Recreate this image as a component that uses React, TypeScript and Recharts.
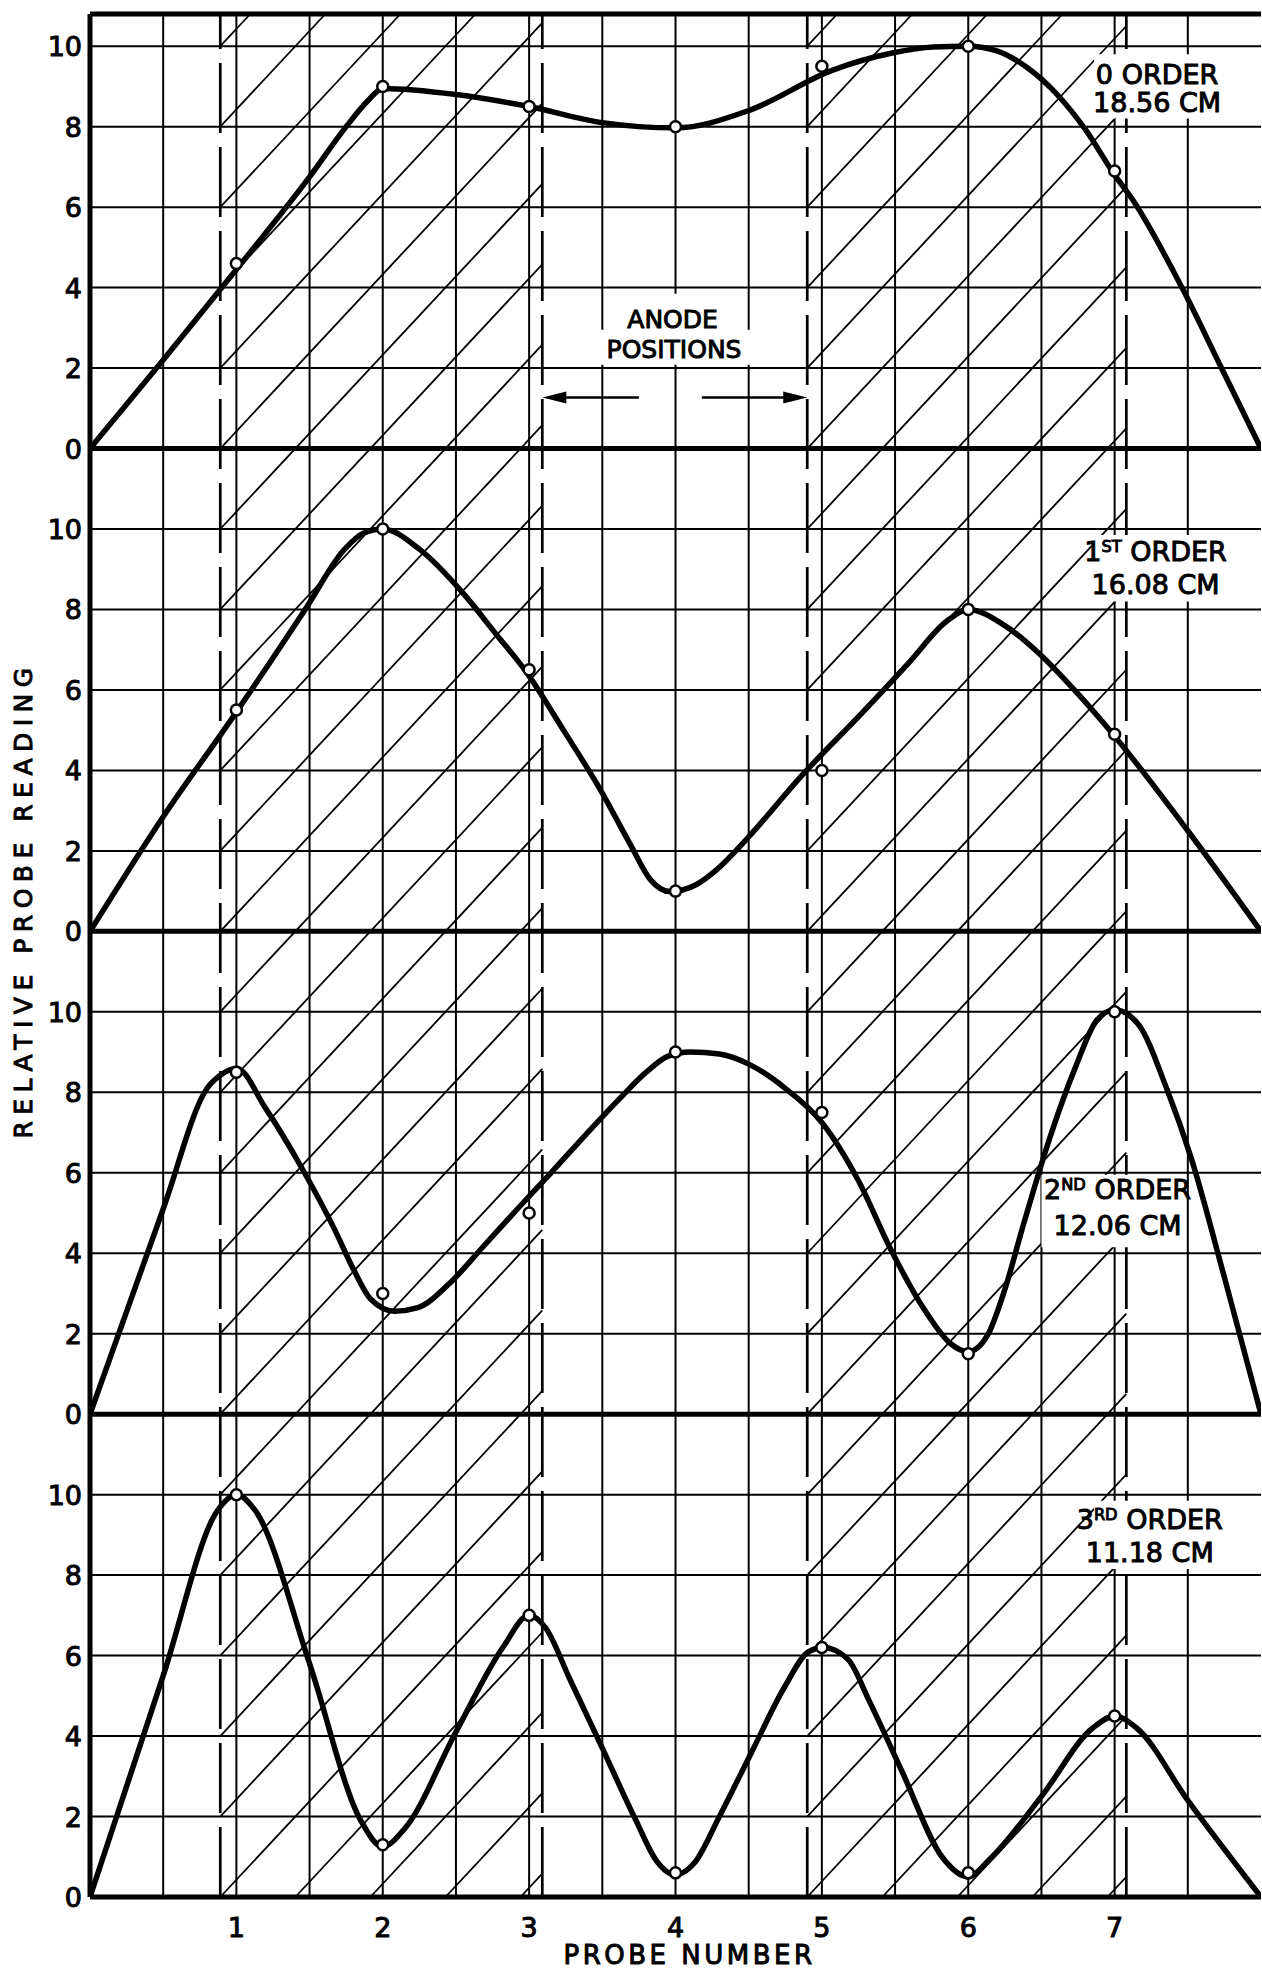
import React from 'react';
import {
  ComposedChart,
  Line,
  XAxis,
  YAxis,
  ReferenceLine,
  ReferenceArea,
  ReferenceDot,
} from 'recharts';

const FONT = '"DejaVu Sans", Verdana, sans-serif';
const INK = '#000';

// probe stations along the tube
const probeNumbers = [1, 2, 3, 4, 5, 6, 7];

// measured readings at each probe, one list per mode order
const order0Readings = [4.6, 9.0, 8.5, 8.0, 9.5, 10.0, 6.9];
const order1Readings = [5.5, 10.0, 6.5, 1.0, 4.0, 8.0, 4.9];
const order2Readings = [8.5, 3.0, 5.0, 9.0, 7.5, 1.5, 10.0];
const order3Readings = [10.0, 1.3, 7.0, 0.6, 6.2, 0.6, 4.5];

// faired curves, [probe position, reading]
const order0Curve = [
  [0, 0], [0.5, 2.2], [1, 4.45], [1.5, 6.75], [1.75, 8.0], [1.9, 8.65], [2, 8.95],
  [2.5, 8.8], [3, 8.5], [3.5, 8.1], [4, 7.97], [4.5, 8.4], [5.07, 9.4], [5.48, 9.83],
  [5.76, 9.98], [6, 10], [6.2, 9.88], [6.39, 9.5], [6.62, 8.75], [6.8, 7.93], [7, 6.8],
  [7.12, 6.2], [7.46, 4.0], [7.73, 2.0], [8, 0],
];
const order1Curve = [
  [0, 0], [0.5, 2.85], [1, 5.45], [1.47, 8.0], [1.74, 9.5], [1.87, 9.9], [2, 10],
  [2.25, 9.5], [2.55, 8.4], [2.78, 7.36], [2.98, 6.45], [3.24, 4.97], [3.49, 3.5],
  [3.69, 2.17], [3.83, 1.28], [3.96, 0.99], [4.14, 1.16], [4.28, 1.53], [4.48, 2.27],
  [4.87, 3.9], [5.28, 5.45], [5.6, 6.7], [5.85, 7.7], [6, 8.0], [6.25, 7.6], [6.5, 6.85],
  [6.75, 5.9], [7, 4.85], [7.5, 2.5], [8, 0],
];
const order2Curve = [
  [0, 0], [0.5, 5.1], [0.8, 8.1], [0.9, 8.45], [1.0, 8.6], [1.2, 7.6], [1.45, 6.1],
  [1.67, 4.6], [1.8, 3.6], [1.92, 2.85], [2.08, 2.56], [2.24, 2.65], [2.47, 3.3],
  [2.69, 4.18], [2.92, 5.1], [3.15, 6.0], [3.4, 7.0], [3.62, 7.85], [3.8, 8.5],
  [3.95, 8.9], [4.1, 9.0], [4.3, 8.95], [4.5, 8.7], [4.75, 8.1], [5, 7.25], [5.25, 5.8],
  [5.47, 4.1], [5.7, 2.6], [5.88, 1.75], [6, 1.55], [6.13, 1.95], [6.25, 3.1],
  [6.38, 4.75], [6.56, 6.9], [6.73, 8.6], [6.88, 9.8], [7, 10.05], [7.16, 9.7],
  [7.36, 8.05], [7.52, 6.4], [7.75, 3.4], [8, 0],
];
const order3Curve = [
  [0, 0], [0.5, 5.5], [0.87, 9.6], [1.0, 10.0], [1.13, 9.6], [1.5, 5.8], [1.85, 1.9],
  [2, 1.25], [2.15, 1.7], [2.5, 4.1], [2.82, 6.2], [3, 7.0], [3.11, 6.7], [3.28, 5.4],
  [3.5, 3.7], [3.73, 1.9], [3.87, 0.9], [4, 0.55], [4.13, 0.85], [4.3, 2.0], [4.52, 3.6],
  [4.75, 5.25], [4.91, 6.1], [5.01, 6.2], [5.18, 5.9], [5.32, 4.9], [5.55, 3.1],
  [5.82, 1.0], [6, 0.5], [6.15, 0.95], [6.5, 2.5], [6.85, 4.2], [7, 4.5], [7.15, 4.2],
  [7.5, 2.4], [8, 0],
];

// anode edges (dashed verticals)
const anodePositions = [0.89, 3.09, 4.9, 7.08];

const readingTicks = [0, 2, 4, 6, 8, 10];
const orderNumbers = ['0', '1', '2', '3'];
const orderSuffixes = ['', 'ST', 'ND', 'RD'];
const cutoffLengths = ['18.56 CM', '16.08 CM', '12.06 CM', '11.18 CM'];

// the four panels are stacked on one value axis, 12 units apart
const PANEL_STEP = 12;
const panelBases = [3, 2, 1, 0].map((i) => i * PANEL_STEP);
const TOP = 46.8;
const HATCH_SLOPE = 3.9;

const orders = [
  { readings: order0Readings, curve: order0Curve },
  { readings: order1Readings, curve: order1Curve },
  { readings: order2Readings, curve: order2Curve },
  { readings: order3Readings, curve: order3Curve },
].map((o, i) => ({
  curveRows: o.curve.map(([x, y]) => ({ x, y: y + panelBases[i] })),
  pointRows: probeNumbers.map((x, j) => ({ x, y: o.readings[j] + panelBases[i] })),
}));

const yTicks = panelBases
  .flatMap((b) => readingTicks.map((t) => b + t))
  .sort((a, b) => a - b);
const thinRows = yTicks.filter((v) => v % PANEL_STEP !== 0);
const gridX = Array.from({ length: 15 }, (_, i) => (i + 1) * 0.5);

// diagonal shading between the anode pairs, clipped to the plot
const hatchSegments: { x: number; y: number }[][] = [];
[[anodePositions[0], anodePositions[1]], [anodePositions[2], anodePositions[3]]].forEach(
  ([left, right]) => {
    for (let k = -6; k <= 24; k++) {
      const y0 = 2 * k;
      let xa = left;
      let ya = y0;
      let xb = right;
      let yb = y0 + HATCH_SLOPE * (right - left);
      if (yb <= 0 || ya >= TOP) continue;
      if (ya < 0) {
        xa = left - y0 / HATCH_SLOPE;
        ya = 0;
      }
      if (yb > TOP) {
        xb = left + (TOP - y0) / HATCH_SLOPE;
        yb = TOP;
      }
      hatchSegments.push([{ x: xa, y: ya }, { x: xb, y: yb }]);
    }
  }
);

// where each order caption sits inside its panel
const captionSpots = [
  { x: 7.29, y1: 9.3, y2: 8.6, box: [6.86, 7.74, 8.2, 9.8] },
  { x: 7.28, y1: 9.45, y2: 8.63, box: [6.86, 7.74, 8.2, 9.85] },
  { x: 7.02, y1: 5.6, y2: 4.7, box: [6.5, 7.47, 4.15, 5.95] },
  { x: 7.24, y1: 9.4, y2: 8.58, box: [6.86, 7.74, 8.15, 9.85] },
];

const ARROW_Y = panelBases[0] + 1.27;

// lettering is a little heavier than the plain face
const letterInk = { fill: INK, stroke: INK, strokeWidth: 1 };

const TextLine = (p: any, head: string, sup: string, tail: string, size: number) => (
  <text
    x={p.cx}
    y={p.cy + size * 0.36}
    textAnchor="middle"
    fontFamily={FONT}
    fontSize={size}
    {...letterInk}
    style={{ whiteSpace: 'pre' }}
  >
    {head}
    {sup ? (
      <tspan fontSize={size * 0.6} dy={-size * 0.32}>
        {sup}
      </tspan>
    ) : null}
    {tail ? <tspan dy={sup ? size * 0.32 : 0}>{tail}</tspan> : null}
  </text>
);

const Arrow = (p: any) => {
  const { x1, y1, x2, y2 } = p;
  const dir = Math.sign(x2 - x1);
  return (
    <g>
      <line x1={x1} y1={y1} x2={x2 - dir * 10} y2={y2} stroke={INK} strokeWidth={2.5} />
      <polygon
        points={`${x2},${y2} ${x2 - dir * 24},${y2 - 6} ${x2 - dir * 24},${y2 + 6}`}
        fill={INK}
      />
    </g>
  );
};

const XTick = (p: any) => (
  <text x={p.x} y={p.y + 40} textAnchor="middle" fontFamily={FONT} fontSize={27} {...letterInk}>
    {p.payload.value}
  </text>
);

const YTick = (p: any) => (
  <text x={p.x - 8} y={p.y + 10} textAnchor="end" fontFamily={FONT} fontSize={27} {...letterInk}>
    {Math.round(p.payload.value) % PANEL_STEP}
  </text>
);

const XTitle = (p: any) => {
  const vb = p.viewBox || { x: 90, y: 1897, width: 1171, height: 70 };
  return (
    <text
      x={vb.x + vb.width * 0.512}
      y={vb.y + 67}
      textAnchor="middle"
      fontFamily={FONT}
      fontSize={26}
      letterSpacing={3.5}
      {...letterInk}
    >
      PROBE NUMBER
    </text>
  );
};

const YTitle = (p: any) => {
  const vb = p.viewBox || { x: 0, y: 14, width: 90, height: 1883 };
  const cx = vb.x + 32;
  const cy = vb.y + vb.height * 0.4705;
  return (
    <text
      transform={`translate(${cx}, ${cy}) rotate(-90)`}
      textAnchor="middle"
      fontFamily={FONT}
      fontSize={25}
      letterSpacing={6.5}
      {...letterInk}
    >
      RELATIVE PROBE READING
    </text>
  );
};

export default function App() {
  return (
    <div
      style={{ position: 'fixed', left: 0, top: 0, width: 1262, height: 1973, background: '#fff' }}
    >
      <ComposedChart width={1262} height={1973} margin={{ top: 14, right: 1, bottom: 6, left: 0 }}>
        <XAxis
          type="number"
          dataKey="x"
          domain={[0, 8]}
          ticks={probeNumbers}
          interval={0}
          allowDataOverflow
          axisLine={false}
          tickLine={false}
          tickSize={0}
          tickMargin={0}
          height={70}
          tick={XTick}
          label={{ content: XTitle }}
        />
        <YAxis
          type="number"
          dataKey="y"
          domain={[0, TOP]}
          ticks={yTicks}
          interval={0}
          allowDataOverflow
          axisLine={false}
          tickLine={false}
          tickSize={0}
          tickMargin={0}
          width={90}
          tick={YTick}
          label={{ content: YTitle }}
        />

        {gridX.map((x) => (
          <ReferenceLine
            key={`gx-${x}`}
            x={x}
            stroke={INK}
            strokeWidth={2}
            ifOverflow="visible"
            zIndex={10}
          />
        ))}
        {thinRows.map((y) => (
          <ReferenceLine
            key={`gy-${y}`}
            y={y}
            stroke={INK}
            strokeWidth={2}
            ifOverflow="visible"
            zIndex={10}
          />
        ))}
        {hatchSegments.map((seg, i) => (
          <ReferenceLine
            key={`h-${i}`}
            segment={seg}
            stroke={INK}
            strokeWidth={1.8}
            ifOverflow="visible"
            zIndex={10}
          />
        ))}
        {anodePositions.map((x) => (
          <ReferenceLine
            key={`a-${x}`}
            x={x}
            stroke={INK}
            strokeWidth={2.7}
            strokeDasharray="70 14"
            ifOverflow="visible"
            zIndex={20}
          />
        ))}

        {panelBases.map((b) => (
          <ReferenceLine
            key={`z-${b}`}
            y={b}
            stroke={INK}
            strokeWidth={5}
            ifOverflow="visible"
            zIndex={30}
          />
        ))}
        <ReferenceLine y={TOP} stroke={INK} strokeWidth={5} ifOverflow="visible" zIndex={30} />
        <ReferenceLine x={0} stroke={INK} strokeWidth={5} ifOverflow="visible" zIndex={30} />

        {captionSpots.map((s, i) => (
          <ReferenceArea
            key={`box-${i}`}
            x1={s.box[0]}
            x2={s.box[1]}
            y1={panelBases[i] + s.box[2]}
            y2={panelBases[i] + s.box[3]}
            fill="#fff"
            fillOpacity={1}
            stroke="none"
            ifOverflow="visible"
            zIndex={300}
          />
        ))}
        <ReferenceArea
          x1={3.68}
          x2={4.3}
          y1={panelBases[0] + 2.9}
          y2={panelBases[0] + 3.85}
          fill="#fff"
          fillOpacity={1}
          stroke="none"
          zIndex={300}
        />
        <ReferenceArea
          x1={3.45}
          x2={4.55}
          y1={panelBases[0] + 2.08}
          y2={panelBases[0] + 2.95}
          fill="#fff"
          fillOpacity={1}
          stroke="none"
          zIndex={300}
        />

        {captionSpots.map((s, i) => (
          <ReferenceDot
            key={`t1-${i}`}
            x={s.x}
            y={panelBases[i] + s.y1}
            r={0}
            zIndex={600}
            shape={(p: any) =>
              TextLine(p, orderNumbers[i], orderSuffixes[i], '\u00a0ORDER', 27)
            }
          />
        ))}
        {captionSpots.map((s, i) => (
          <ReferenceDot
            key={`t2-${i}`}
            x={s.x}
            y={panelBases[i] + s.y2}
            r={0}
            zIndex={600}
            shape={(p: any) => TextLine(p, cutoffLengths[i], '', '', 27)}
          />
        ))}
        <ReferenceDot
          x={3.98}
          y={panelBases[0] + 3.22}
          r={0}
          zIndex={600}
          shape={(p: any) => TextLine(p, 'ANODE', '', '', 25)}
        />
        <ReferenceDot
          x={3.99}
          y={panelBases[0] + 2.47}
          r={0}
          zIndex={600}
          shape={(p: any) => TextLine(p, 'POSITIONS', '', '', 25)}
        />
        <ReferenceLine
          segment={[{ x: 3.75, y: ARROW_Y }, { x: anodePositions[1], y: ARROW_Y }]}
          shape={Arrow}
          ifOverflow="visible"
          zIndex={320}
        />
        <ReferenceLine
          segment={[{ x: 4.18, y: ARROW_Y }, { x: anodePositions[2], y: ARROW_Y }]}
          shape={Arrow}
          ifOverflow="visible"
          zIndex={320}
        />

        {orders.map((o, i) => (
          <Line
            key={`curve-${i}`}
            data={o.curveRows}
            dataKey="y"
            type="monotone"
            stroke={INK}
            strokeWidth={5.5}
            strokeLinejoin="round"
            dot={false}
            activeDot={false}
            isAnimationActive={false}
            zIndex={400}
          />
        ))}
        {orders.map((o, i) => (
          <Line
            key={`pts-${i}`}
            data={o.pointRows}
            dataKey="y"
            stroke="none"
            strokeWidth={0}
            dot={{ r: 5.5, fill: '#fff', stroke: INK, strokeWidth: 2.5 }}
            activeDot={false}
            isAnimationActive={false}
            zIndex={450}
          />
        ))}
      </ComposedChart>
    </div>
  );
}
